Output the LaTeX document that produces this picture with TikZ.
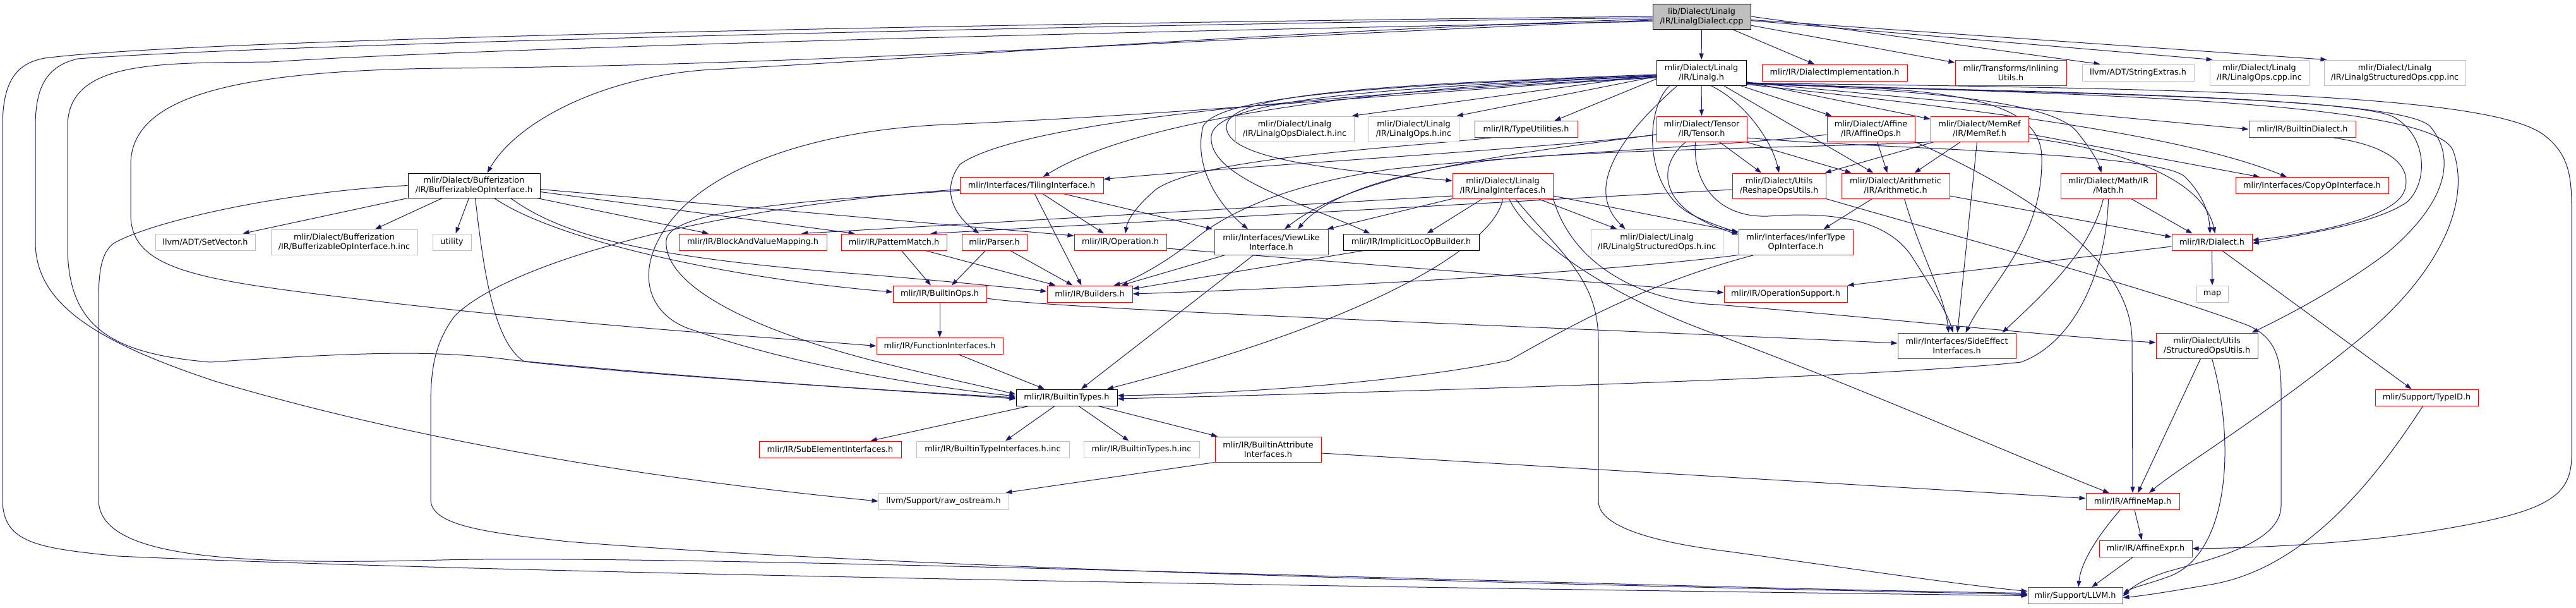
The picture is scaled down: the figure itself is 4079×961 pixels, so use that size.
\documentclass[tikz,border=0pt]{standalone}
\usepackage{fontspec}
\setmainfont{DejaVu Sans}
\usetikzlibrary{arrows.meta}
\pgfdeclarelayer{bg}
\pgfsetlayers{bg,main}
\definecolor{edgecol}{HTML}{191970}
\definecolor{grayb}{HTML}{BFBFBF}
\definecolor{rootfill}{HTML}{BFBFBF}
\definecolor{redb}{HTML}{FF0000}
\tikzset{
  nbase/.style={draw, line width=1pt, fill=white, inner sep=0pt, align=center,
    font=\fontsize{12.8pt}{15pt}\selectfont},
  blk/.style={nbase, draw=black},
  redn/.style={nbase, draw=redb},
  grn/.style={nbase, draw=grayb},
  rootn/.style={nbase, draw=black, fill=rootfill},
  e/.style={draw=edgecol, line width=1pt, -{Triangle[length=10pt,width=7pt]}},
}
\begin{document}
\begin{tikzpicture}[x=1pt,y=1pt]
\useasboundingbox (0,0) rectangle (4079,-961);
% ---------------- nodes ----------------
\node[rootn, minimum width=155pt, minimum height=40pt] (A) at (2694.5,-26) {lib/Dialect/Linalg\\/IR/LinalgDialect.cpp};
\node[blk, minimum width=142pt, minimum height=40pt] (B) at (2694,-115) {mlir/Dialect/Linalg\\/IR/Linalg.h};
\node[blk, minimum width=209pt, minimum height=39pt] (C) at (750.5,-293.5) {mlir/Dialect/Bufferization\\/IR/BufferizableOpInterface.h};
\node[grn, minimum width=158pt, minimum height=26pt] (D) at (325,-383) {llvm/ADT/SetVector.h};
\node[grn, minimum width=232pt, minimum height=40pt] (E) at (545,-383) {mlir/Dialect/Bufferization\\/IR/BufferizableOpInterface.h.inc};
\node[grn, minimum width=61pt, minimum height=26pt] (F) at (715.5,-383) {utility};
\node[redn, minimum width=234pt, minimum height=26pt] (G) at (1192,-383) {mlir/IR/BlockAndValueMapping.h};
\node[redn, minimum width=167pt, minimum height=26pt] (H) at (1415.5,-383) {mlir/IR/PatternMatch.h};
\node[redn, minimum width=227pt, minimum height=26pt] (I) at (1633.5,-293.5) {mlir/Interfaces/TilingInterface.h};
\node[redn, minimum width=103pt, minimum height=26pt] (J) at (1574.5,-383) {mlir/Parser.h};
\node[redn, minimum width=146pt, minimum height=26pt] (K) at (1774,-383) {mlir/IR/Operation.h};
\node[redn, minimum width=180pt, minimum height=40pt] (L) at (2013,-383) {mlir/Interfaces/ViewLike\\Interface.h};
\node[redn, minimum width=148pt, minimum height=26pt] (M) at (1488,-465) {mlir/IR/BuiltinOps.h};
\node[redn, minimum width=135pt, minimum height=26pt] (N) at (1725.5,-465) {mlir/IR/Builders.h};
\node[grn, minimum width=188pt, minimum height=40pt] (O) at (2050,-204) {mlir/Dialect/Linalg\\/IR/LinalgOpsDialect.h.inc};
\node[redn, minimum width=225pt, minimum height=26pt] (P) at (1314.5,-711) {mlir/IR/SubElementInterfaces.h};
\node[redn, minimum width=200pt, minimum height=26pt] (Q) at (1488,-547.5) {mlir/IR/FunctionInterfaces.h};
\node[blk, minimum width=160pt, minimum height=26pt] (R) at (1689,-629) {mlir/IR/BuiltinTypes.h};
\node[grn, minimum width=242pt, minimum height=26pt] (S) at (1572,-711) {mlir/IR/BuiltinTypeInterfaces.h.inc};
\node[grn, minimum width=183pt, minimum height=26pt] (T) at (1807.5,-711) {mlir/IR/BuiltinTypes.h.inc};
\node[redn, minimum width=168pt, minimum height=40pt] (U) at (2008,-711) {mlir/IR/BuiltinAttribute\\Interfaces.h};
\node[grn, minimum width=206pt, minimum height=26pt] (V) at (1494,-793) {llvm/Support/raw\_ostream.h};
\node[grn, minimum width=143pt, minimum height=40pt] (W) at (2238.5,-204) {mlir/Dialect/Linalg\\/IR/LinalgOps.h.inc};
\node[redn, minimum width=163pt, minimum height=26pt] (X) at (2416.5,-204.5) {mlir/IR/TypeUtilities.h};
\node[redn, minimum width=143pt, minimum height=40pt] (Y) at (2694.5,-204) {mlir/Dialect/Tensor\\/IR/Tensor.h};
\node[redn, minimum width=159pt, minimum height=40pt] (Z) at (2379.5,-294) {mlir/Dialect/Linalg\\/IR/LinalgInterfaces.h};
\node[blk, minimum width=215pt, minimum height=26pt] (AA) at (2234.5,-383) {mlir/IR/ImplicitLocOpBuilder.h};
\node[grn, minimum width=209pt, minimum height=40pt] (AB) at (2623.5,-383) {mlir/Dialect/Linalg\\/IR/LinalgStructuredOps.h.inc};
\node[redn, minimum width=195pt, minimum height=26pt] (AC) at (2827.5,-465) {mlir/IR/OperationSupport.h};
\node[redn, minimum width=230pt, minimum height=26pt] (AD) at (2905,-115) {mlir/IR/DialectImplementation.h};
\node[redn, minimum width=176pt, minimum height=40pt] (AE) at (3184,-115) {mlir/Transforms/Inlining\\Utils.h};
\node[grn, minimum width=177pt, minimum height=26pt] (AF) at (3385.5,-115) {llvm/ADT/StringExtras.h};
\node[redn, minimum width=139pt, minimum height=40pt] (AG) at (2962.5,-204) {mlir/Dialect/Affine\\/IR/AffineOps.h};
\node[redn, minimum width=155pt, minimum height=40pt] (AH) at (3134.5,-204) {mlir/Dialect/MemRef\\/IR/MemRef.h};
\node[redn, minimum width=148pt, minimum height=40pt] (AI) at (2817,-294) {mlir/Dialect/Utils\\/ReshapeOpsUtils.h};
\node[redn, minimum width=171pt, minimum height=40pt] (AJ) at (3001.5,-294) {mlir/Dialect/Arithmetic\\/IR/Arithmetic.h};
\node[redn, minimum width=151pt, minimum height=40pt] (AK) at (3338.5,-294) {mlir/Dialect/Math/IR\\/Math.h};
\node[redn, minimum width=181pt, minimum height=40pt] (AL) at (2843.5,-383) {mlir/Interfaces/InferType\\OpInterface.h};
\node[redn, minimum width=187pt, minimum height=40pt] (AM) at (3098.5,-547) {mlir/Interfaces/SideEffect\\Interfaces.h};
\node[redn, minimum width=148pt, minimum height=26pt] (AN) at (3377,-793.5) {mlir/IR/AffineMap.h};
\node[redn, minimum width=147pt, minimum height=26pt] (AO) at (3397.5,-868) {mlir/IR/AffineExpr.h};
\node[redn, minimum width=150pt, minimum height=26pt] (AP) at (3286,-942.5) {mlir/Support/LLVM.h};
\node[redn, minimum width=161pt, minimum height=40pt] (AQ) at (3494.5,-547) {mlir/Dialect/Utils\\/StructuredOpsUtils.h};
\node[grn, minimum width=157pt, minimum height=40pt] (AR) at (3577.5,-115) {mlir/Dialect/Linalg\\/IR/LinalgOps.cpp.inc};
\node[grn, minimum width=224pt, minimum height=40pt] (AS) at (3792,-115) {mlir/Dialect/Linalg\\/IR/LinalgStructuredOps.cpp.inc};
\node[redn, minimum width=169pt, minimum height=26pt] (AT) at (3645.5,-204.5) {mlir/IR/BuiltinDialect.h};
\node[redn, minimum width=242pt, minimum height=26pt] (AU) at (3661,-293.5) {mlir/Interfaces/CopyOpInterface.h};
\node[redn, minimum width=127pt, minimum height=26pt] (AV) at (3502.5,-383) {mlir/IR/Dialect.h};
\node[grn, minimum width=50pt, minimum height=26pt] (AW) at (3503,-465) {map};
\node[redn, minimum width=163pt, minimum height=26pt] (AX) at (3842.5,-629) {mlir/Support/TypeID.h};
% ---------------- edges ----------------
\begin{pgfonlayer}{bg}
\fill[white] (0,0) rectangle (4079,-961);
% from A
\draw[e] (A) -- (B);
\draw[e] (A) -- (AD);
\draw[e] (A) -- (AE);
\draw[e] (A.east) -- ([xshift=-60pt]AF.north);
\draw[e] (A) -- ([xshift=5pt]AR.north west);
\draw[e] (A) -- ([xshift=5pt]AS.north west);
\draw[e] ([yshift=-4pt]A.west) .. controls (2000,-50) and (1400,-97) .. (1126,-110) .. controls (960,-120) and (820,-190) .. ([xshift=21pt]C.north);
\draw[e] ([yshift=-6pt]A.west) .. controls (2000,-56) and (1300,-104) .. (700,-108) .. controls (380,-112) and (207,-150) .. (207,-260) -- (207,-340) .. controls (207,-420) and (300,-440) .. (500,-465) .. controls (900,-515) and (1200,-532) .. (Q.west);
\draw[e] (A.west) .. controls (1500,-38) and (300,-62) .. (71,-92) .. controls (25,-100) and (4,-130) .. (4,-200) -- (4,-790) .. controls (4,-860) and (60,-867) .. (187,-880) .. controls (900,-912) and (2600,-935) .. (AP.west);
\draw[e] ([yshift=-2pt]A.west) .. controls (1500,-43) and (400,-72) .. (123,-93) .. controls (72,-105) and (56,-140) .. (56,-200) -- (56,-383) .. controls (56,-480) and (150,-540) .. (340,-603) .. controls (700,-710) and (1100,-765) .. (V.west);
\draw[e] ([yshift=-8pt]A.west) .. controls (1500,-55) and (700,-80) .. (428,-98) .. controls (250,-100) and (107,-95) .. (107,-200) -- (107,-390) .. controls (107,-520) and (180,-560) .. (333,-573) .. controls (600,-555) and (700,-555) .. (814,-570) .. controls (1100,-598) and (1400,-618) .. (R.west);
% from B
\draw[e] ([yshift=-3pt]B.west) -- ([xshift=-4pt]O.north east);
\draw[e] ([yshift=-6pt]B.west) -- ([xshift=-4pt]W.north east);
\draw[e] ([yshift=-10pt]B.west) -- ([xshift=45pt]X.north);
\draw[e] (B) -- (Y);
\draw[e] ([yshift=-3pt]B.west) .. controls (2150,-135) and (1945,-150) .. (1942,-200) .. controls (1940,-250) and (2100,-268) .. ([yshift=8pt]Z.west);
\draw[e] ([yshift=-6pt]B.west) .. controls (2100,-140) and (1780,-200) .. ([xshift=18pt]I.north);
\draw[e] ([yshift=-7pt]B.west) .. controls (2100,-150) and (1620,-190) .. (1520,-260) .. controls (1490,-300) and (1510,-340) .. ([xshift=-24pt]J.north);
\draw[e] ([yshift=-4pt]B.west) .. controls (2200,-135) and (1930,-150) .. (1905,-200) .. controls (1890,-260) and (1925,-320) .. ([xshift=-37pt]L.north);
\draw[e] ([yshift=-8pt]B.west) .. controls (2300,-140) and (1900,-180) .. (1500,-197) .. controls (1300,-205) and (1140,-260) .. (1070,-340) .. controls (1000,-420) and (1020,-500) .. (1100,-523) .. controls (1250,-575) and (1450,-610) .. ([yshift=2pt]R.west);
\draw[e] ([yshift=-5pt]B.west) .. controls (2150,-140) and (1925,-160) .. (1918,-215) .. controls (1912,-280) and (2060,-320) .. ([xshift=-65pt]AA.north);
\draw[e] ([xshift=-38pt]B.south) .. controls (2560,-220) and (2510,-300) .. ([xshift=-50pt]AB.north);
\draw[e] (B) -- (AG);
\draw[e] (B) -- (AH);
\draw[e] ([xshift=15pt]B.south) .. controls (2760,-160) and (2805,-220) .. (AI.north);
\draw[e] (B) -- (AJ);
\draw[e] ([yshift=5pt]B.south east) .. controls (3000,-142) and (3250,-155) .. (3290,-210) .. controls (3310,-235) and (3322,-255) .. ([xshift=-11pt]AK.north);
\draw[e] ([xshift=-50pt]B.south) .. controls (2605,-170) and (2600,-300) .. (2680,-340) .. controls (2710,-355) and (2730,-360) .. ([yshift=14pt]AL.west);
\draw[e] ([yshift=4pt]B.south east) .. controls (3050,-140) and (3233,-145) .. (3233,-250) .. controls (3235,-380) and (3150,-450) .. ([xshift=14pt]AM.north);
\draw[e] ([yshift=5pt]B.south east) -- (AT.west);
\draw[e] ([yshift=2pt]B.south east) .. controls (3100,-170) and (3450,-210) .. ([xshift=-40pt]AU.north);
\draw[e] ([yshift=3pt]B.south east) .. controls (3100,-145) and (3720,-150) .. (3790,-185) .. controls (3845,-215) and (3845,-290) .. (3811,-320) .. controls (3760,-355) and (3640,-372) .. ([yshift=-2pt]AV.east);
\draw[e] ([yshift=3pt]B.south east) .. controls (3200,-146) and (3800,-150) .. (3848,-200) .. controls (3890,-250) and (3875,-320) .. (3780,-400) .. controls (3700,-460) and (3610,-505) .. ([xshift=-10pt]AQ.north east);
\draw[e] ([yshift=3pt]B.south east) .. controls (3300,-148) and (3860,-160) .. (3885,-240) .. controls (3915,-330) and (3850,-440) .. (3750,-525) .. controls (3600,-650) and (3450,-740) .. ([xshift=26pt]AN.north);
\draw[e] ([yshift=4pt]B.south east) .. controls (3500,-140) and (3950,-150) .. (4030,-215) .. controls (4068,-245) and (4072,-280) .. (4072,-330) -- (4072,-720) .. controls (4072,-790) and (4030,-812) .. (3833,-843) .. controls (3700,-862) and (3560,-867) .. (AO.east);
% from C
\draw[e] (C.south west) -- ([xshift=-20pt]D.north east);
\draw[e] ([xshift=-50pt]C.south) -- ([xshift=49pt]E.north);
\draw[e] ([xshift=-8pt]C.south) -- ([xshift=6pt]F.north);
\draw[e] ([xshift=100pt]C.south) -- ([xshift=-70pt]G.north);
\draw[e] ([yshift=-10pt]C.east) -- ([xshift=-62pt]H.north);
\draw[e] ([yshift=-6pt]C.east) -- ([yshift=10pt]K.west);
\draw[e] ([xshift=32pt]C.south) .. controls (880,-380) and (1150,-440) .. ([yshift=3pt]M.west);
\draw[e] ([xshift=58pt]C.south) .. controls (900,-380) and (1050,-410) .. (1380,-435) .. controls (1500,-445) and (1600,-455) .. ([yshift=4pt]N.west);
\draw[e] ([xshift=2pt]C.south) .. controls (765,-420) and (780,-540) .. (830,-572) .. controls (1000,-592) and (1400,-617) .. ([yshift=-2pt]R.west);
\draw[e] (C.west) .. controls (450,-303) and (240,-350) .. (180,-385) .. controls (160,-400) and (156,-430) .. (156,-480) -- (156,-790) .. controls (156,-880) and (350,-895) .. (700,-886) .. controls (1100,-876) and (2600,-930) .. ([yshift=4pt]AP.west);
% from I
\draw[e] ([xshift=18pt]I.south) -- ([xshift=-26pt]K.north);
\draw[e] ([xshift=52pt]I.south) -- ([xshift=-93pt]L.north);
\draw[e] ([xshift=5pt]I.south) -- ([xshift=-13pt]N.north);
\draw[e] ([yshift=-6pt]I.west) .. controls (1100,-330) and (800,-420) .. (720,-500) .. controls (690,-540) and (682,-580) .. (682,-640) -- (682,-790) .. controls (682,-830) and (760,-842) .. (900,-857) .. controls (1500,-905) and (2700,-930) .. ([yshift=2pt]AP.west);
\draw[e] ([yshift=-8pt]I.west) .. controls (1250,-318) and (1060,-335) .. (1055,-380) .. controls (1050,-440) and (1150,-510) .. (1380,-570) .. controls (1480,-595) and (1560,-612) .. ([yshift=5pt]R.west);
% from Y
\draw[e] ([yshift=-9pt]Y.west) .. controls (2450,-235) and (2000,-260) .. ([yshift=10pt]I.east);
\draw[e] ([yshift=-9pt]Y.west) .. controls (2400,-242) and (2150,-272) .. ([xshift=21pt]L.north);
\draw[e] (Y) -- (AI);
\draw[e] (Y) -- (AJ);
\draw[e] ([xshift=-25pt]Y.south) .. controls (2625,-260) and (2620,-330) .. ([yshift=12pt]AL.west);
\draw[e] ([xshift=-10pt]Y.south) .. controls (2680,-290) and (2720,-345) .. (2800,-342) .. controls (2900,-335) and (2990,-345) .. (3030,-410) .. controls (3065,-465) and (3085,-500) .. ([xshift=-6pt]AM.north);
\draw[e] ([yshift=-14pt]Y.east) .. controls (2950,-235) and (3420,-240) .. (3460,-280) .. controls (3490,-310) and (3498,-340) .. ([xshift=-3pt]AV.north);
% from Z
\draw[e] ([yshift=-16pt]Z.west) -- ([xshift=77pt]G.north);
\draw[e] ([xshift=-32pt]Z.south) -- ([xshift=25pt]AA.north);
\draw[e] ([xshift=56pt]Z.south) -- ([xshift=-63pt]AB.north);
\draw[e] (Z.south west) -- ([xshift=-2pt]L.north east);
\draw[e] ([yshift=-16pt]Z.east) -- ([yshift=16pt]AL.west);
\draw[e] (Z.south) .. controls (2370,-380) and (2200,-500) .. ([xshift=64pt]R.north);
\draw[e] ([xshift=10pt]Z.south) .. controls (2420,-380) and (2550,-470) .. (2720,-530) .. controls (2950,-615) and (3200,-725) .. ([xshift=-37pt]AN.north);
\draw[e] ([xshift=20pt]Z.south) .. controls (2470,-400) and (2531,-440) .. (2531,-540) -- (2531,-793) .. controls (2531,-840) and (2650,-862) .. (2740,-873) .. controls (2900,-895) and (3100,-925) .. ([yshift=7pt]AP.west);
\draw[e] (Z.south east) .. controls (2490,-420) and (2600,-478) .. (2720,-482) .. controls (3000,-505) and (3250,-532) .. ([yshift=5pt]AQ.west);
% from X
\draw[e] ([xshift=-55pt]X.south) .. controls (2200,-235) and (1900,-250) .. (1830,-300) .. controls (1795,-330) and (1785,-350) .. ([xshift=8pt]K.north);
% middle
\draw[e] ([xshift=12pt]H.south) -- ([xshift=-14pt]M.north);
\draw[e] ([xshift=50pt]H.south) -- ([xshift=-54pt]N.north);
\draw[e] ([xshift=-14pt]J.south) -- ([xshift=19pt]M.north);
\draw[e] ([xshift=25pt]J.south) -- ([xshift=-27pt]N.north);
\draw[e] ([xshift=-73pt]L.south) -- ([xshift=50pt]N.north);
\draw[e] ([xshift=-28pt]L.south) -- ([xshift=23pt]R.north);
\draw[e] ([xshift=-75pt]AA.south) -- ([yshift=8pt]N.east);
\draw[e] (AL.south west) .. controls (2550,-430) and (2100,-455) .. (N.east);
\draw[e] ([xshift=25pt]AL.south west) .. controls (2600,-450) and (2480,-520) .. (2390,-570) .. controls (2250,-600) and (2000,-622) .. ([yshift=3pt]R.east);
\draw[e] ([yshift=-10pt]K.east) -- ([yshift=2pt]AC.west);
\draw[e] (M) -- (Q);
\draw[e] ([yshift=-7pt]M.east) .. controls (1680,-490) and (2400,-515) .. ([yshift=4pt]AM.west);
\draw[e] ([xshift=30pt]Q.south) -- ([xshift=-35pt]R.north);
\draw[e] ([xshift=-60pt]R.south) -- ([xshift=64pt]P.north);
\draw[e] ([xshift=-19pt]R.south) -- ([xshift=20pt]S.north);
\draw[e] ([xshift=19pt]R.south) -- ([xshift=-20pt]T.north);
\draw[e] ([xshift=50pt]R.south) -- ([xshift=-80pt]U.north);
\draw[e] (U.south west) -- ([xshift=-5pt]V.north east);
\draw[e] ([yshift=-6pt]U.east) -- ([yshift=5pt]AN.west);
% right part
\draw[e] ([xshift=10pt]AG.south) -- ([xshift=-13pt]AJ.north);
\draw[e] (AG.south east) .. controls (3180,-290) and (3376,-400) .. (3376,-540) -- (AN.north);
\draw[e] ([yshift=-9pt]AG.west) .. controls (2780,-228) and (2400,-245) .. (2200,-268) .. controls (2050,-290) and (1950,-330) .. (1890,-380) .. controls (1840,-420) and (1790,-445) .. ([xshift=38pt]N.north);
\draw[e] ([xshift=6pt]AH.south west) -- ([xshift=-2pt]AI.north east);
\draw[e] ([xshift=-30pt]AH.south) -- ([xshift=30pt]AJ.north);
\draw[e] ([xshift=-4pt]AH.south) -- ([xshift=1pt]AM.north);
\draw[e] ([yshift=-8pt]AH.east) -- ([xshift=-83pt]AU.north);
\draw[e] ([yshift=-14pt]AH.east) .. controls (3380,-240) and (3490,-290) .. ([xshift=5pt]AV.north);
\draw[e] (AH.south west) .. controls (2950,-232) and (2500,-236) .. (2350,-255) .. controls (2200,-275) and (2100,-310) .. ([xshift=42pt]L.north);
\draw[e] ([yshift=-6pt]AI.west) -- ([xshift=58pt]H.north);
\draw[e] (AI.south east) .. controls (3100,-375) and (3400,-455) .. (3560,-515) .. controls (3605,-535) and (3612,-570) .. (3612,-620) -- (3612,-800) .. controls (3612,-860) and (3500,-885) .. (3430,-905) .. controls (3400,-915) and (3380,-925) .. ([yshift=-1pt]AP.east);
\draw[e] ([xshift=-37pt]AJ.south) -- ([xshift=44pt]AL.north);
\draw[e] ([xshift=14pt]AJ.south) .. controls (3040,-400) and (3080,-470) .. ([xshift=-13pt]AM.north);
\draw[e] ([yshift=-16pt]AJ.east) -- ([yshift=8pt]AV.west);
\draw[e] ([xshift=-8pt]AK.south) .. controls (3310,-400) and (3230,-470) .. ([xshift=72pt]AM.north);
\draw[e] ([xshift=36pt]AK.south) -- ([xshift=-31pt]AV.north);
\draw[e] (AK.south) .. controls (3336,-420) and (3290,-540) .. (3200,-573) .. controls (3000,-595) and (2300,-618) .. ([yshift=-2pt]R.east);
\draw[e] ([xshift=50pt]AT.south) .. controls (3790,-232) and (3818,-265) .. (3808,-300) .. controls (3795,-345) and (3660,-370) .. ([yshift=3pt]AV.east);
\draw[e] (AV) -- (AW);
\draw[e] ([yshift=-7pt]AV.west) -- (AC.north east);
\draw[e] ([xshift=16pt]AV.south) -- ([xshift=-24pt]AX.north);
\draw[e] ([xshift=3pt]AN.south) -- ([xshift=-6pt]AO.north);
\draw[e] ([xshift=-20pt]AN.south) .. controls (3320,-850) and (3295,-890) .. ([xshift=5pt]AP.north);
\draw[e] ([xshift=-20pt]AO.south) -- ([xshift=26pt]AP.north);
\draw[e] ([xshift=-10pt]AQ.south) -- ([xshift=8pt]AN.north);
\draw[e] ([xshift=8pt]AQ.south) .. controls (3540,-700) and (3530,-870) .. (3440,-910) .. controls (3410,-922) and (3380,-928) .. ([yshift=3pt]AP.east);
\draw[e] ([xshift=-6pt]AX.south) .. controls (3760,-760) and (3650,-900) .. (3500,-925) .. controls (3440,-935) and (3400,-942) .. ([yshift=-3pt]AP.east);
\end{pgfonlayer}
\end{tikzpicture}
\end{document}
